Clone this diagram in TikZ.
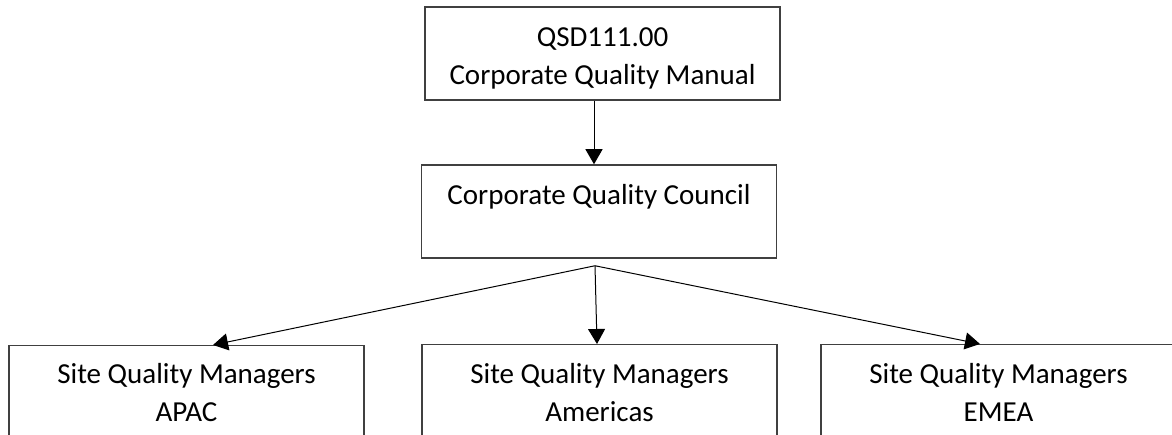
\documentclass[tikz,border=0pt]{standalone}
\usepackage{fontspec}
\setmainfont{Carlito}
\usetikzlibrary{arrows.meta}

\tikzset{
  unitbox/.style={draw=black!75, line width=1.5pt, minimum width=355pt, inner sep=0pt},
  unittext/.style={anchor=base, align=center, inner sep=0pt, font=\fontsize{29}{38}\selectfont},
  link/.style={line width=1pt, -{Triangle[length=15pt,width=17pt]}}
}

\begin{document}
\begin{tikzpicture}[x=1pt,y=-1pt]
        \clip (0,0) rectangle (1172,435);
        \node[unitbox, minimum height=93pt] (manual) at (602.5,53.5) {};
        \node[unitbox, minimum height=93pt] (council) at (599,211.5) {};
        \node[unitbox, minimum height=110pt, anchor=north] (apac) at (186.5,345) {};
        \node[unitbox, minimum height=110pt, anchor=north] (americas) at (599.5,344) {};
        \node[unitbox, minimum height=110pt, anchor=north] (emea) at (998.5,344) {};
        \node[unittext] (manualtext) at ([yshift=-78pt]manual.north) {QSD111.00\\Corporate Quality Manual};
        \node[unittext] (counciltext) at ([yshift=-40pt]council.north) {Corporate Quality Council};
        \node[unittext] (apactext) at ([yshift=-76pt]apac.north) {Site Quality Managers\\APAC};
        \node[unittext] (americastext) at ([yshift=-77pt]americas.north) {Site Quality Managers\\Americas};
        \node[unittext] (emeatext) at ([yshift=-77pt]emea.north) {Site Quality Managers\\EMEA};
        \coordinate (fork) at ([xshift=-4pt,yshift=-7pt]council.south);
        \draw[link] ([xshift=-8.5pt]manual.south) -- ([xshift=-8.5pt]manual.south |- council.north);
        \draw[link] (fork) -- ([xshift=26.5pt]apac.north);
        \draw[link] (fork) -- ([xshift=-2.5pt]americas.north);
        \draw[link] (fork) -- ([xshift=-18.5pt]emea.north);
    \end{tikzpicture}
\end{document}
